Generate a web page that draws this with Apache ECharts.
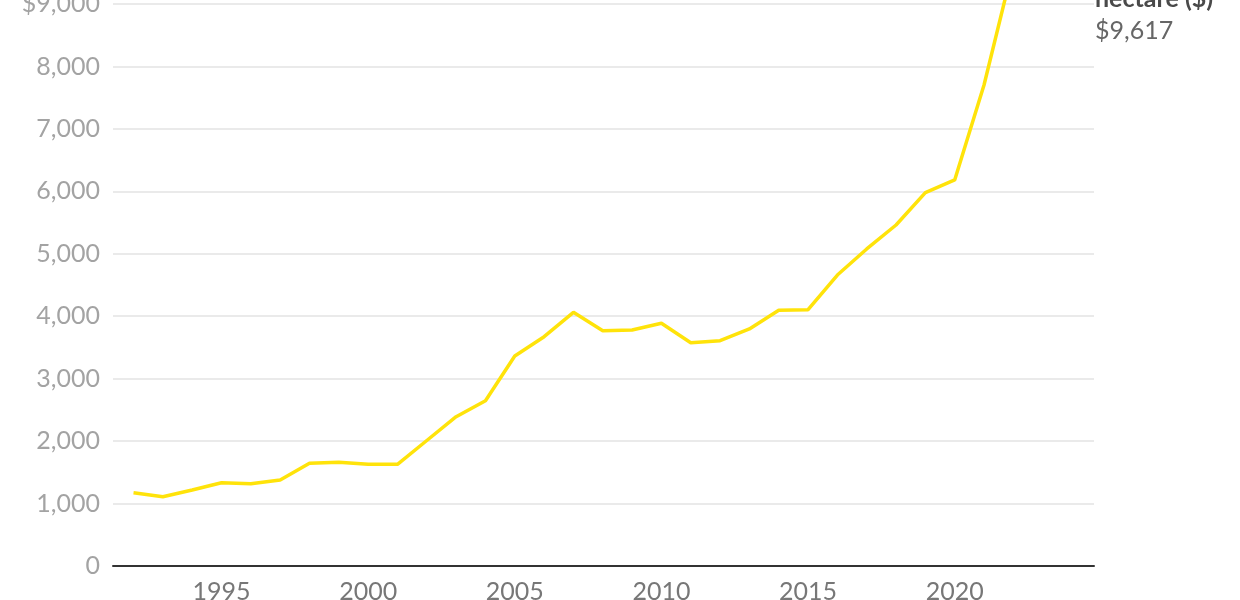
<!DOCTYPE html>
<html>
<head>
<meta charset="utf-8">
<script src="https://cdn.jsdelivr.net/npm/echarts@6/dist/echarts.min.js"></script>
<style>
html,body{margin:0;padding:0;background:#fff;}
#chart{width:1240px;height:600px;}
</style>
</head>
<body>
<div id="chart"></div>
<script>
const years = [1992,1993,1994,1995,1996,1997,1998,1999,2000,2001,2002,2003,2004,2005,2006,2007,2008,2009,2010,2011,2012,2013,2014,2015,2016,2017,2018,2019,2020,2021,2022];
const values = [1174,1110,1217,1334,1318,1377,1645,1661,1629,1629,2010,2391,2647,3363,3672,4063,3768,3780,3887,3576,3608,3796,4095,4105,4660,5077,5461,5979,6182,7703,9617];
const xTickLabels = [1995,2000,2005,2010,2015,2020];
const yTicks = [0,1000,2000,3000,4000,5000,6000,7000,8000,9000];
const seriesLabel = ['Value per', 'hectare ($)'];

const chart = echarts.init(document.getElementById('chart'));
const font = 'Lato, "Noto Sans", sans-serif';
const lastVal = values[values.length - 1];

chart.setOption({
  animation: false,
  grid: { left: 113, right: 146, top: 4, bottom: 34, containLabel: false, outerBoundsMode: 'none' },
  xAxis: {
    type: 'value',
    min: 1991.3,
    max: 2024.75,
    axisLine: { show: true, lineStyle: { color: '#333', width: 2 } },
    axisTick: { show: false },
    splitLine: { show: false },
    axisLabel: {
      customValues: xTickLabels,
      formatter: v => String(v),
      color: '#777',
      fontFamily: font,
      fontSize: 25,
      margin: 13
    }
  },
  yAxis: {
    type: 'value',
    min: 0,
    max: yTicks[yTicks.length - 1],
    interval: 1000,
    axisLine: { show: false },
    axisTick: { show: false },
    splitLine: { lineStyle: { color: '#e3e3e3', width: 1.5 } },
    axisLabel: {
      color: '#a3a3a3',
      fontFamily: font,
      fontSize: 25,
      margin: 13,
      formatter: v => (v === yTicks[yTicks.length - 1] ? '$' : '') + v.toLocaleString('en-US')
    }
  },
  series: [{
    type: 'line',
    data: years.map((y, i) => [y, values[i]]),
    showSymbol: false,
    lineStyle: { color: '#FFE30A', width: 3.5 },
    itemStyle: { color: '#FFE30A' },
    clip: false
  }],
  graphic: [{
    type: 'text',
    left: 1095,
    top: -46,
    style: {
      text: seriesLabel.map(s => '{b|' + s + '}').join('\n') + '\n{v|$' + lastVal.toLocaleString('en-US') + '}',
      rich: {
        b: { fontFamily: font, fontSize: 25, fontWeight: 'bold', fill: '#4a4a4a', lineHeight: 32 },
        v: { fontFamily: font, fontSize: 25, fill: '#666', lineHeight: 32 }
      }
    }
  }]
});
</script>
</body>
</html>
